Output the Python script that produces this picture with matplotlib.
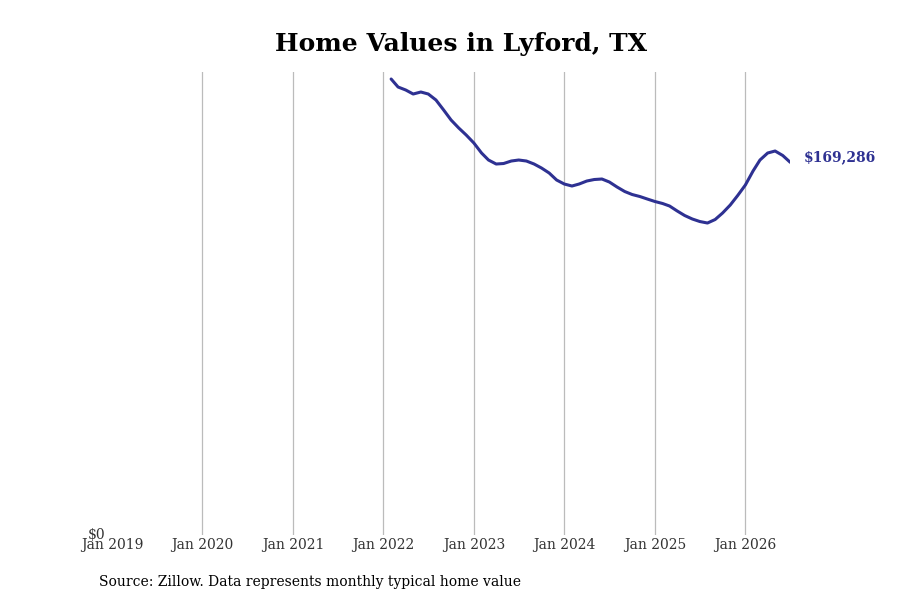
import matplotlib
matplotlib.use("Agg")
import matplotlib.pyplot as plt
import numpy as np
import pandas as pd

# monthly typical home value, Feb 2022 .. Jul 2026
start_month = "2022-02-01"
home_values = [
    207115, 203482, 202119, 200302, 201211, 200302, 197577, 193035, 188493, 184859, 181680,
    178046, 173504, 170325, 168508, 168735, 169871, 170325, 169871, 168508, 166691, 164420, 161241,
    159424, 158516, 159424, 160787, 161468, 161695, 160333, 158062, 156018, 154655, 153747, 152611,
    151476, 150567, 149432, 147161, 145117, 143527, 142392, 141710, 143300, 146252, 149886, 154201,
    158970, 165329, 170325, 173504, 174413, 172369, 169286,
]
tick_years = list(range(2019, 2027))
title = "Home Values in Lyford, TX"
source_note = "Source: Zillow. Data represents monthly typical home value"

LINE_COLOR = "#2e3192"

plt.rcParams["font.family"] = ["DejaVu Serif"]

dates = pd.date_range(start_month, periods=len(home_values), freq="MS")

fig = plt.figure(figsize=(9, 6), dpi=100)
ax = fig.add_axes([0.1244, 0.1083, 0.7536, 0.7717])

ax.plot(dates, home_values, color=LINE_COLOR, linewidth=2.2, solid_capstyle="round")

ticks = [pd.Timestamp(f"{y}-01-01") for y in tick_years]
ax.set_xticks(ticks)
ax.set_xticklabels([f"Jan {y}" for y in tick_years], fontsize=10, color="#333333")
ax.set_xlim(pd.Timestamp("2019-01-01"), dates[-1])
ax.set_ylim(0, 210300)
ax.set_yticks([0])
ax.set_yticklabels(["$0"], fontsize=10, color="#333333")
ax.tick_params(axis="both", length=0)
ax.tick_params(axis="x", pad=2)
ax.tick_params(axis="y", pad=5)
for lbl in ax.get_yticklabels():
    lbl.set_verticalalignment("center")

ax.grid(axis="x", color="#bbbbbb", linewidth=0.9)
ax.grid(axis="y", visible=False)
# no grid line at the left edge (Jan 2019)
ax.get_xgridlines()[0].set_visible(False)
for side in ["top", "right", "bottom", "left"]:
    ax.spines[side].set_visible(False)

ax.annotate(f"${home_values[-1]:,}", xy=(dates[-1], home_values[-1]), xytext=(10, 4),
            textcoords="offset points", fontsize=10, fontweight="bold", color=LINE_COLOR,
            va="center", ha="left", annotation_clip=False)

fig.text(0.512, 0.927, title, ha="center", va="center", fontsize=18, fontweight="bold")
fig.text(0.11, 0.03, source_note, ha="left", va="center", fontsize=10)

fig.savefig("out.png", dpi=100)
